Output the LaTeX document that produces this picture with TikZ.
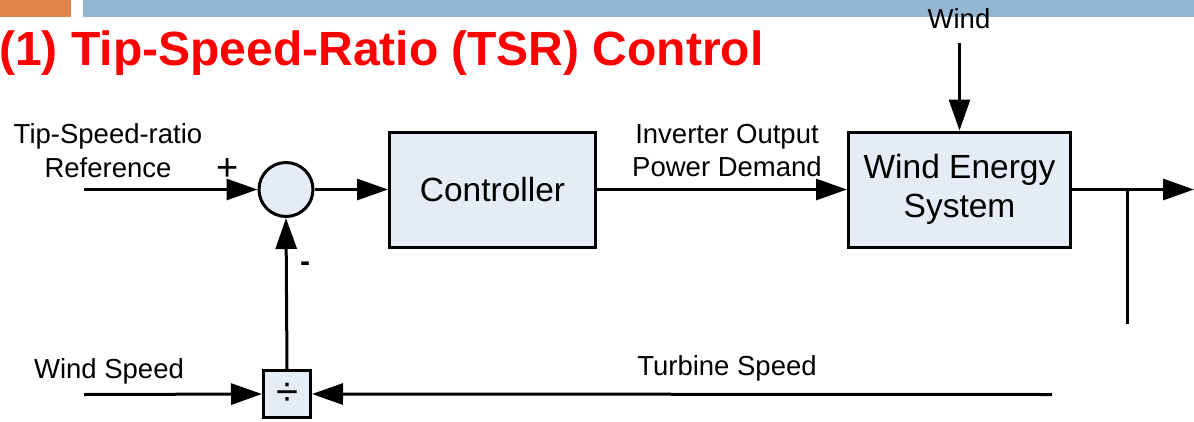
\documentclass[tikz,border=0pt]{standalone}
\usepackage{fontspec}
\setmainfont{Liberation Sans}
\usetikzlibrary{arrows.meta}
\definecolor{barorange}{RGB}{224,132,76}
\definecolor{barblue}{RGB}{148,182,210}
\definecolor{boxfill}{RGB}{230,236,246}
\definecolor{titlered}{RGB}{255,0,0}
\tikzset{
  blk/.style={draw=black, line width=3pt, fill=boxfill, inner sep=0pt, align=center,
    font=\fontsize{33.5}{39}\selectfont},
  lbl/.style={inner sep=0pt, anchor=base, font=\fontsize{27.5}{31}\selectfont},
  conn/.style={line width=3pt, -{Triangle[length=31pt,width=21pt]}},
  plain/.style={line width=3pt},
}
\begin{document}
\begin{tikzpicture}[x=1pt,y=-1pt]
\useasboundingbox (0,0) rectangle (1194,421);
% header bars
\fill[barorange] (0,0) rectangle (71,17);
\fill[barblue] (83,0) rectangle (1194,17);
% title
\node[anchor=base west, inner sep=0pt, text=titlered,
  font=\fontsize{48}{50}\selectfont\bfseries] (title) at (-1,65) {(1) Tip-Speed-Ratio (TSR) Control};
% blocks
\node[blk, circle, minimum size=54pt] (sum) at (286,189.5) {};
\node[blk, minimum width=206pt, minimum height=115pt] (ctrl) at (492.5,189.5) {Controller};
\node[blk, minimum width=222pt, minimum height=115pt] (wes) at (959.5,189.5) {Wind Energy\\System};
\node[blk, minimum width=47pt, minimum height=47pt, font=\fontsize{40}{40}\selectfont] (div) at (287,394) {\raisebox{-5pt}{÷}};
% coordinates
\coordinate (refin) at (84,189.5);
\coordinate (windtop) at (959.5,43);
\coordinate (out) at (1194,189.5);
\coordinate (tap) at (1127,189.5);
\coordinate (tapend) at (1127,324);
\coordinate (wsin) at (84,394.5);
\coordinate (tsin) at (1052,394.5);
% connectors
\draw[conn] (refin) -- (sum.west);
\draw[conn] (sum.east) -- (ctrl.west);
\draw[conn] (ctrl.east) -- (wes.west);
\draw[conn] (windtop) -- (wes.north);
\draw[conn] (wes.east) -- (out);
\draw[plain] (tap) -- (tapend);
\draw[conn] (wsin) -- (div.west);
\draw[conn] (tsin) -- (div.east);
\draw[conn] (div.north) -- (sum.south);
% labels
\node[lbl] (l1) at (108,143) {Tip-Speed-ratio};
\node[lbl] (l2) at (108,177) {Reference};
\node[lbl, font=\fontsize{38}{38}\selectfont] (plus) at (228,180) {+};
\node[lbl, font=\fontsize{30}{30}\selectfont\bfseries] (minus) at (305,271) {-};
\node[lbl] (l3) at (727,143) {Inverter Output};
\node[lbl] (l4) at (727,176) {Power Demand};
\node[lbl] (l5) at (959,28) {Wind};
\node[lbl] (l6) at (109,378) {Wind Speed};
\node[lbl] (l7) at (727,375) {Turbine Speed};
\end{tikzpicture}
\end{document}
